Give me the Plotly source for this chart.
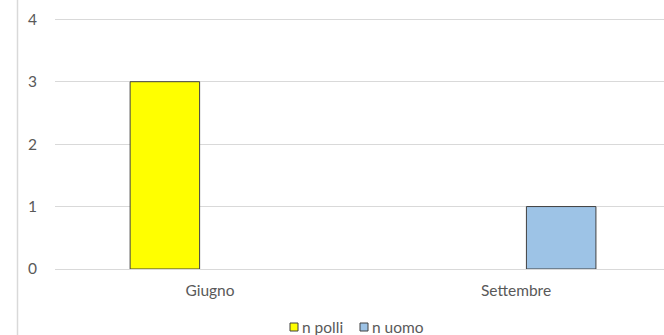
import plotly.graph_objects as go

categories = ["Giugno", "Settembre"]
n_polli = [3, None]
n_uomo = [None, 1]
y_ticks = [0, 1, 2, 3, 4]
series_names = ["n polli", "n uomo"]
series_colors = ["#FFFF00", "#9DC3E6"]

font_family = "Lato, Open Sans, sans-serif"
text_color = "#595959"
FS = 15.5

W, H = 664, 335
ML, MR, MT, MB = 55, 0, 18, 66
PW, PH = W - ML - MR, H - MT - MB


def px(x):
    return (x - ML) / PW


def py(y):
    return (H - MB - y) / PH


fig = go.Figure()
for name, vals, col in zip(series_names, [n_polli, n_uomo], series_colors):
    fig.add_trace(go.Bar(
        x=categories, y=vals, name=name, showlegend=False,
        marker=dict(color=col, line=dict(color="#404040", width=1)),
    ))

shapes = [dict(type="line", xref="paper", yref="paper",
               x0=px(17.5), x1=px(17.5), y0=-2, y1=2,
               line=dict(color="#d9d9d9", width=1.5))]
annotations = []
legend_sq_x = [290, 360]
for name, col, sx in zip(series_names, series_colors, legend_sq_x):
    shapes.append(dict(type="rect", xref="paper", yref="paper",
                       x0=px(sx), x1=px(sx + 8), y0=py(331), y1=py(323),
                       fillcolor=col, line=dict(color="#404040", width=1)))
    annotations.append(dict(xref="paper", yref="paper", x=px(sx + 10), y=py(327),
                            xanchor="left", yanchor="middle", showarrow=False,
                            text=name, font=dict(size=FS, color=text_color)))

fig.update_layout(
    width=W, height=H,
    margin=dict(l=ML, r=MR, t=MT, b=MB),
    paper_bgcolor="white", plot_bgcolor="white",
    barmode="group", bargap=0.41, bargroupgap=0.23,
    font=dict(family=font_family, size=FS, color=text_color),
    showlegend=False,
    xaxis=dict(type="category", range=[-0.5065, 1.4835], showgrid=False, showline=False,
               ticks="", ticklabelstandoff=10, tickfont=dict(size=FS, color=text_color)),
    yaxis=dict(range=[0, 4.02], tickvals=y_ticks, showgrid=True, gridcolor="#d9d9d9",
               gridwidth=1, zeroline=True, zerolinecolor="#d9d9d9", zerolinewidth=1,
               showline=False, ticks="", ticklabelstandoff=17,
               tickfont=dict(size=FS, color=text_color)),
    shapes=shapes,
    annotations=annotations,
)

fig.write_html("out.html")
